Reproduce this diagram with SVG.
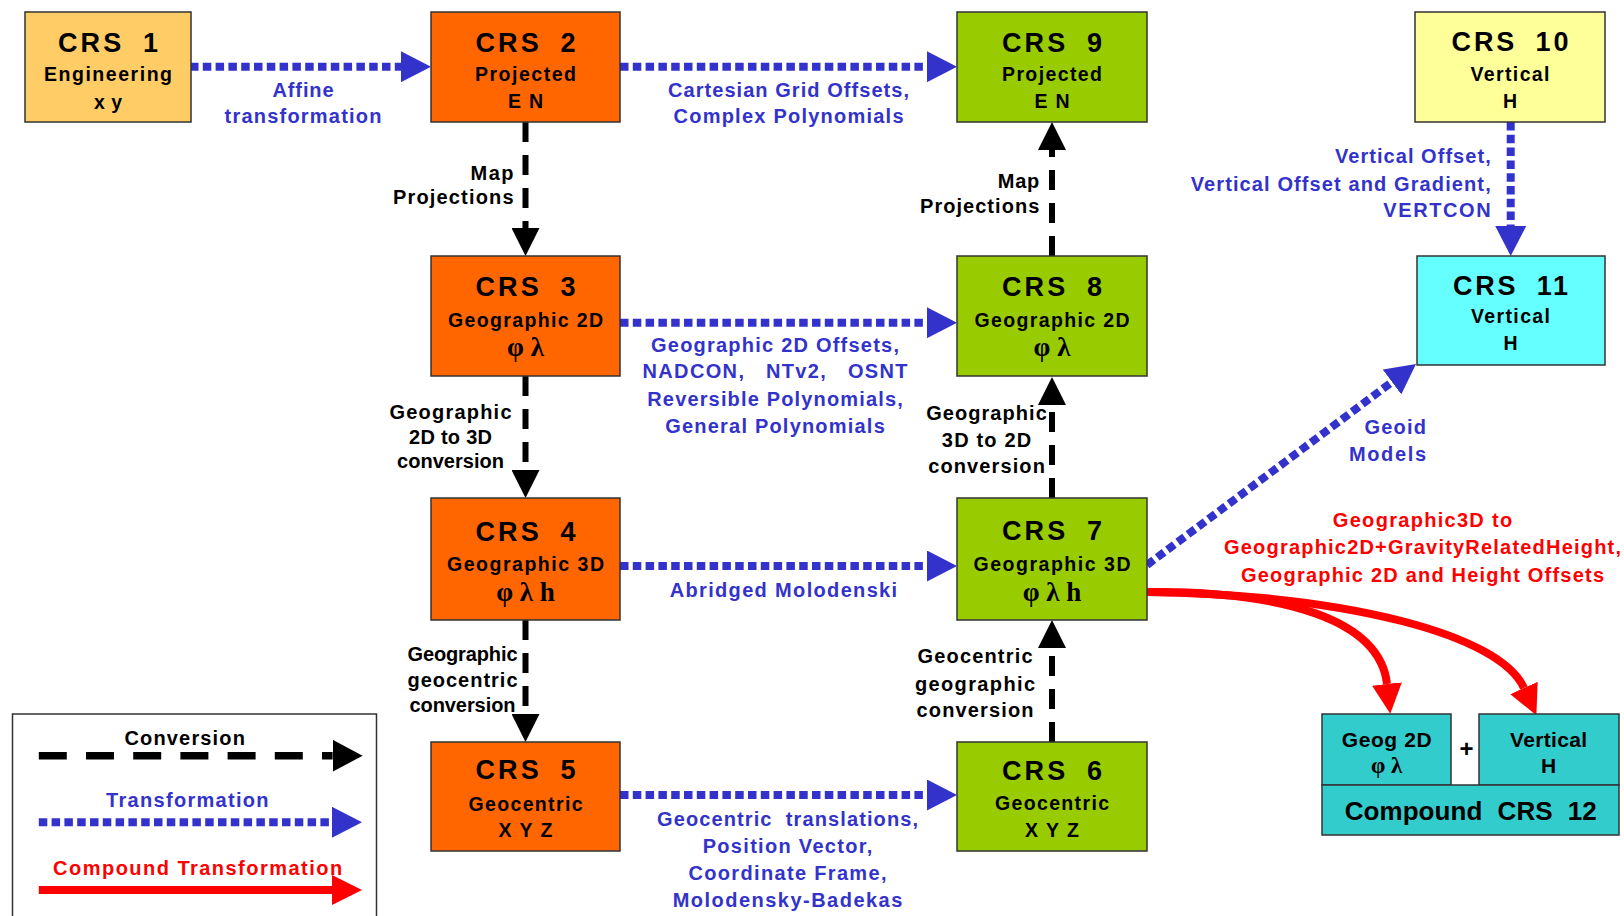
<svg xmlns="http://www.w3.org/2000/svg" width="1624" height="916" viewBox="0 0 1624 916">
<defs>
<style>
text { font-family: "Liberation Sans", Arial, sans-serif; font-weight: bold; }
.t { font-size: 27px; text-anchor: middle; fill: #000; word-spacing: 8px; }
.s { font-size: 19.5px; text-anchor: middle; fill: #000; }
.g { font-family: "Liberation Serif", "Times New Roman", serif; font-size: 27px; text-anchor: middle; fill: #000; }
.box { stroke: #333; stroke-width: 1.5; }
.org { fill: #FF6600; }
.grn { fill: #99CC00; }
.lor { fill: #FFCC66; }
.yel { fill: #FFFF99; }
.cyn { fill: #66FFFF; }
.tea { fill: #33CCCC; }
.lb { font-size: 20px; fill: #3333CC; text-anchor: middle; }
.lbe { font-size: 20px; fill: #3333CC; text-anchor: end; }
.lk { font-size: 20px; fill: #000; text-anchor: middle; }
.lke { font-size: 20px; fill: #000; text-anchor: end; }
.lr { font-size: 20px; fill: #FF0000; text-anchor: middle; }
.conv { stroke: #000; stroke-width: 6; stroke-dasharray: 20 13; fill: none; marker-end: url(#ak); }
.trans { stroke: #3333CC; stroke-width: 8; stroke-dasharray: 8.5 4.3; fill: none; marker-end: url(#ab); }
.comp { stroke: #FF0000; stroke-width: 8; fill: none; marker-end: url(#ar); }
</style>
<marker id="ak" markerUnits="userSpaceOnUse" markerWidth="28" markerHeight="28" viewBox="0 0 28 28" refX="0" refY="14" orient="auto"><path d="M0,0 L28,14 L0,28 z" fill="#000"/></marker>
<marker id="akl" markerUnits="userSpaceOnUse" markerWidth="30" markerHeight="32" viewBox="0 0 30 32" refX="0" refY="16" orient="auto"><path d="M0,0 L30,16 L0,32 z" fill="#000"/></marker>
<marker id="ab" markerUnits="userSpaceOnUse" markerWidth="30" markerHeight="31" viewBox="0 0 30 31" refX="0" refY="15.5" orient="auto"><path d="M0,0 L30,15.5 L0,31 z" fill="#3333CC"/></marker>
<marker id="ar" markerUnits="userSpaceOnUse" markerWidth="30" markerHeight="30" viewBox="0 0 30 30" refX="0" refY="15" orient="auto"><path d="M0,0 L30,15 L0,30 z" fill="#FF0000"/></marker>
</defs>
<rect x="0" y="0" width="1624" height="916" fill="#FFFFFF"/>

<g id="connectors">
  <path class="conv" d="M525.5,122 V228"/>
  <path class="conv" d="M525.5,376 V470"/>
  <path class="conv" d="M525.5,620 V714"/>
  <path class="conv" d="M1052,742 V648"/>
  <path class="conv" d="M1052,498 V405"/>
  <path class="conv" d="M1052,256 V150"/>
  <path class="trans" d="M190,66.7 H401"/>
  <path class="trans" d="M620,66.7 H927"/>
  <path class="trans" d="M620,322.7 H927"/>
  <path class="trans" d="M620,566 H927"/>
  <path class="trans" d="M620,795 H927"/>
  <path class="trans" d="M1510.7,122 V226"/>
  <path class="trans" d="M1147,565 L1392,382"/>
  <path class="comp" d="M1147,592 C1285,591 1380,620 1387,684"/>
  <path class="comp" d="M1147,592 C1350,595 1500,635 1524,688"/>

  <text class="lb" x="303" y="96.7" textLength="61">Affine</text>
  <text class="lb" x="303" y="123" textLength="157">transformation</text>
  <text class="lb" x="788.5" y="96.7" textLength="241">Cartesian Grid Offsets,</text>
  <text class="lb" x="788.5" y="123.3" textLength="230">Complex Polynomials</text>
  <text class="lke" x="513.5" y="180" textLength="43">Map</text>
  <text class="lke" x="513.5" y="204" textLength="120.5">Projections</text>
  <text class="lke" x="1039.3" y="188.3" textLength="41.6">Map</text>
  <text class="lke" x="1039.3" y="213.3" textLength="119.3">Projections</text>
  <text class="lbe" x="1490.7" y="163.3" textLength="155.7">Vertical Offset,</text>
  <text class="lbe" x="1490.7" y="190.7" textLength="300">Vertical Offset and Gradient,</text>
  <text class="lbe" x="1490.7" y="217.3" textLength="107.4">VERTCON</text>
  <text class="lb" x="775" y="351.7" textLength="248">Geographic 2D Offsets,</text>
  <text class="lb" x="775" y="378.3" textLength="265" xml:space="preserve">NADCON,   NTv2,   OSNT</text>
  <text class="lb" x="775" y="405.7" textLength="255.5">Reversible Polynomials,</text>
  <text class="lb" x="775" y="432.7" textLength="219.5">General Polynomials</text>
  <text class="lk" x="450.5" y="419.3" textLength="122">Geographic</text>
  <text class="lk" x="450.5" y="444.3" textLength="83">2D to 3D</text>
  <text class="lk" x="450.5" y="468.3" textLength="107">conversion</text>
  <text class="lk" x="986.5" y="420" textLength="120.7">Geographic</text>
  <text class="lk" x="986.5" y="446.7" textLength="89.3">3D to 2D</text>
  <text class="lk" x="986.5" y="473.3" textLength="116.7">conversion</text>
  <text class="lb" x="783.4" y="596.7" textLength="227.5">Abridged Molodenski</text>
  <text class="lk" x="462.5" y="660.7" textLength="110">Geographic</text>
  <text class="lk" x="462.5" y="686.7" textLength="110">geocentric</text>
  <text class="lk" x="462.5" y="711.7" textLength="106">conversion</text>
  <text class="lk" x="975" y="663.3" textLength="115">Geocentric</text>
  <text class="lk" x="975" y="690.7" textLength="120">geographic</text>
  <text class="lk" x="975" y="717.3" textLength="117">conversion</text>
  <text class="lb" x="787.5" y="826" textLength="261" xml:space="preserve">Geocentric  translations,</text>
  <text class="lb" x="787.5" y="852.7" textLength="169.6">Position Vector,</text>
  <text class="lb" x="787.5" y="880" textLength="198">Coordinate Frame,</text>
  <text class="lb" x="787.5" y="906.7" textLength="229.7">Molodensky-Badekas</text>
  <text class="lbe" x="1426" y="434" textLength="61.5">Geoid</text>
  <text class="lbe" x="1426" y="461" textLength="77">Models</text>
  <text class="lr" x="1422.5" y="527.3" textLength="179.3">Geographic3D to</text>
  <text class="lr" x="1422.5" y="554.3" textLength="397">Geographic2D+GravityRelatedHeight,</text>
  <text class="lr" x="1422.5" y="581.7" textLength="363">Geographic 2D and Height Offsets</text>
</g>

<g id="crs1">
  <rect class="box lor" x="25" y="12" width="166" height="110"/>
  <text class="t" x="108" y="51.7" textLength="100">CRS 1</text>
  <text class="s" x="108" y="81" textLength="128">Engineering</text>
  <text class="s" x="108" y="109" textLength="28">x y</text>
</g>
<g id="crs2">
  <rect class="box org" x="431" y="12" width="189" height="110"/>
  <text class="t" x="525.5" y="51.7" textLength="100">CRS 2</text>
  <text class="s" x="525.5" y="81" textLength="101">Projected</text>
  <text class="s" x="525.5" y="108.3" textLength="35">E N</text>
</g>
<g id="crs9">
  <rect class="box grn" x="957" y="12" width="190" height="110"/>
  <text class="t" x="1052" y="51.7" textLength="100">CRS 9</text>
  <text class="s" x="1052" y="81" textLength="100">Projected</text>
  <text class="s" x="1052" y="108.3" textLength="35">E N</text>
</g>
<g id="crs10">
  <rect class="box yel" x="1415" y="12" width="190" height="110"/>
  <text class="t" x="1510" y="50.7" textLength="117">CRS 10</text>
  <text class="s" x="1510" y="81" textLength="79">Vertical</text>
  <text class="s" x="1510" y="107.7">H</text>
</g>
<g id="crs11">
  <rect class="box cyn" x="1417" y="256" width="188" height="109"/>
  <text class="t" x="1510.5" y="295" textLength="115">CRS 11</text>
  <text class="s" x="1510.5" y="323.3" textLength="79">Vertical</text>
  <text class="s" x="1510.5" y="350">H</text>
</g>
<g id="crs3">
  <rect class="box org" x="431" y="256" width="189" height="120"/>
  <text class="t" x="525.5" y="295.5" textLength="100">CRS 3</text>
  <text class="s" x="525.5" y="326.5" textLength="155">Geographic 2D</text>
  <text class="g" x="525.5" y="356">φ λ</text>
</g>
<g id="crs8">
  <rect class="box grn" x="957" y="256" width="190" height="120"/>
  <text class="t" x="1052" y="295.5" textLength="100">CRS 8</text>
  <text class="s" x="1052" y="326.5" textLength="155">Geographic 2D</text>
  <text class="g" x="1052" y="356">φ λ</text>
</g>
<g id="crs4">
  <rect class="box org" x="431" y="498" width="189" height="122"/>
  <text class="t" x="525.5" y="540.7" textLength="100">CRS 4</text>
  <text class="s" x="525.5" y="570.7" textLength="157">Geographic 3D</text>
  <text class="g" x="525.5" y="601">φ λ h</text>
</g>
<g id="crs7">
  <rect class="box grn" x="957" y="498" width="190" height="122"/>
  <text class="t" x="1052" y="540" textLength="100">CRS 7</text>
  <text class="s" x="1052" y="570.7" textLength="157">Geographic 3D</text>
  <text class="g" x="1052" y="601">φ λ h</text>
</g>
<g id="crs5">
  <rect class="box org" x="431" y="742" width="189" height="109"/>
  <text class="t" x="525.5" y="779.3" textLength="100">CRS 5</text>
  <text class="s" x="525.5" y="810.7" textLength="114">Geocentric</text>
  <text class="s" x="525.5" y="836.7" textLength="54">X Y Z</text>
</g>
<g id="crs6">
  <rect class="box grn" x="957" y="742" width="190" height="109"/>
  <text class="t" x="1052" y="780" textLength="100">CRS 6</text>
  <text class="s" x="1052" y="810" textLength="114">Geocentric</text>
  <text class="s" x="1052" y="836.7" textLength="54">X Y Z</text>
</g>
<g id="crs12">
  <rect class="box tea" x="1322" y="714" width="129" height="71"/>
  <rect class="box tea" x="1479" y="714" width="140" height="71"/>
  <rect class="box tea" x="1322" y="785" width="297" height="50"/>
  <text class="s" x="1386.7" y="746.7" textLength="90" style="font-size:21px">Geog 2D</text>
  <text class="g" x="1386.7" y="773" style="font-size:23px">φ λ</text>
  <text class="s" x="1548.5" y="746.7" textLength="77" style="font-size:21px">Vertical</text>
  <text class="s" x="1548.5" y="773.3" style="font-size:21px">H</text>
  <text class="s" x="1466.5" y="757" style="font-size:24px">+</text>
  <text class="t" x="1470.8" y="820" textLength="252" style="font-size:26px">Compound CRS 12</text>
</g>

<g id="legend">
  <rect x="12.5" y="714" width="364" height="220" fill="#FFFFFF" stroke="#333" stroke-width="1.5"/>
  <text class="lk" x="184.7" y="745" textLength="120.4">Conversion</text>
  <path d="M38.8,755.7 H332.6" stroke="#000" stroke-width="7.5" stroke-dasharray="28 19.2" fill="none" marker-end="url(#akl)"/>
  <text class="lb" x="187.3" y="806.7" textLength="162.4">Transformation</text>
  <path class="trans" d="M38.8,822.3 H332"/>
  <text class="lr" x="197.6" y="875" textLength="289">Compound Transformation</text>
  <path class="comp" d="M38.8,890 H332"/>
</g>
</svg>
